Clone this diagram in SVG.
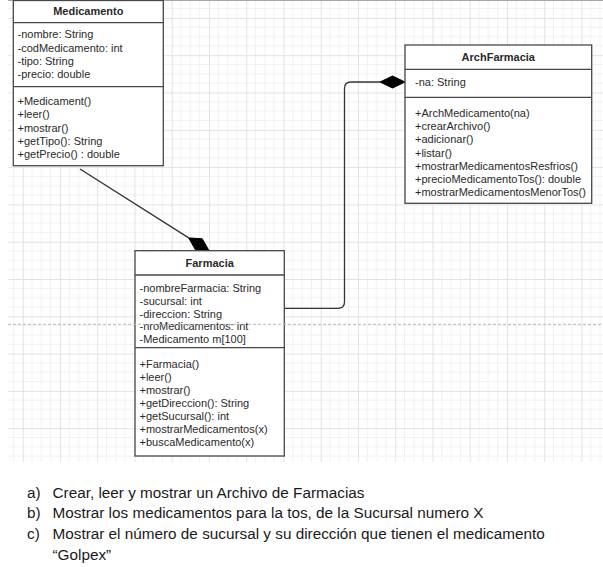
<svg xmlns="http://www.w3.org/2000/svg" width="603" height="567" viewBox="0 0 603 567">
<style>
.box{fill:#fff;stroke:#474747;stroke-width:1.3}
.sep{stroke:#474747;stroke-width:1.3}
.t{font-family:"Liberation Sans",Arial,sans-serif;font-size:11px;fill:#2a2a2a}
.h{font-family:"Liberation Sans",Arial,sans-serif;font-size:11px;font-weight:bold;fill:#2a2a2a;text-anchor:middle}
.q{font-family:"Liberation Sans",Arial,sans-serif;font-size:15.3px;fill:#1a1a1a}
.conn{fill:none;stroke:#333;stroke-width:1.3}
</style>
<defs>
<pattern id="grid" patternUnits="userSpaceOnUse" x="22.7" y="17.9" width="37.25" height="37.3">
<path d="M9.31 0V37.3M18.62 0V37.3M27.94 0V37.3M0 9.33H37.25M0 18.65H37.25M0 27.98H37.25" stroke="#f1f1f1" stroke-width="1" fill="none"/>
<path d="M0.5 0V37.3M0 0.5H37.25" stroke="#e2e2e2" stroke-width="1" fill="none"/>
</pattern>
</defs>
<rect width="603" height="567" fill="#fff"/>
<rect x="8" y="0" width="595" height="462" fill="url(#grid)"/>
<line x1="8" y1="0.5" x2="603" y2="0.5" stroke="#a8a8a8" stroke-width="1"/>

<g id="connectors">
<path class="conn" d="M80 169 L188.7 237.9"/>
<polygon points="188.7,237.9 202.3,238.8 209,250.7 195.4,249.8" fill="#000" stroke="#000" stroke-width="1"/>
<path class="conn" d="M284.3 308.3 H338 Q344.5 308.3 344.5 302 V88.5 Q344.5 82 351 82 H380"/>
<polygon points="380,82 392.5,76 405,82 392.5,88" fill="#000" stroke="#000" stroke-width="1"/>
</g>

<g id="medicamento">
<rect class="box" x="13.3" y="0.5" width="150" height="165.2"/>
<line class="sep" x1="13.3" y1="22.7" x2="163.3" y2="22.7"/>
<line class="sep" x1="13.3" y1="86.7" x2="163.3" y2="86.7"/>
<text class="h" x="88.3" y="15">Medicamento</text>
<text class="t" x="17.5" y="38.3">-nombre: String</text>
<text class="t" x="17.5" y="51.5">-codMedicamento: int</text>
<text class="t" x="17.5" y="64.7">-tipo: String</text>
<text class="t" x="17.5" y="77.9">-precio: double</text>
<text class="t" x="17.5" y="104.7">+Medicament()</text>
<text class="t" x="17.5" y="118.1">+leer()</text>
<text class="t" x="17.5" y="131.5">+mostrar()</text>
<text class="t" x="17.5" y="144.9">+getTipo(): String</text>
<text class="t" x="17.5" y="158.3">+getPrecio() : double</text>
</g>

<g id="archfarmacia">
<rect class="box" x="405" y="45" width="186.7" height="158.3"/>
<line class="sep" x1="405" y1="69.3" x2="591.7" y2="69.3"/>
<line class="sep" x1="405" y1="97.3" x2="591.7" y2="97.3"/>
<text class="h" x="498.3" y="61.3">ArchFarmacia</text>
<text class="t" x="415" y="86.3">-na: String</text>
<text class="t" x="415" y="117.3">+ArchMedicamento(na)</text>
<text class="t" x="415" y="130.4">+crearArchivo()</text>
<text class="t" x="415" y="143.4">+adicionar()</text>
<text class="t" x="415" y="156.5">+listar()</text>
<text class="t" x="415" y="169.6">+mostrarMedicamentosResfrios()</text>
<text class="t" x="415" y="182.7">+precioMedicamentoTos(): double</text>
<text class="t" x="415" y="195.7">+mostrarMedicamentosMenorTos()</text>
</g>

<g id="farmacia">
<rect class="box" x="135" y="250.7" width="149.3" height="205.3"/>
<line class="sep" x1="135" y1="275" x2="284.3" y2="275"/>
<line class="sep" x1="135" y1="347.7" x2="284.3" y2="347.7"/>
<text class="h" x="209.7" y="267.3">Farmacia</text>
<text class="t" x="139.5" y="291.7">-nombreFarmacia: String</text>
<text class="t" x="139.5" y="304.6">-sucursal: int</text>
<text class="t" x="139.5" y="317.5">-direccion: String</text>
<text class="t" x="139.5" y="330.4">-nroMedicamentos: int</text>
<text class="t" x="139.5" y="343.3">-Medicamento m[100]</text>
<text class="t" x="139.5" y="368.3">+Farmacia()</text>
<text class="t" x="139.5" y="381.3">+leer()</text>
<text class="t" x="139.5" y="394.3">+mostrar()</text>
<text class="t" x="139.5" y="407.3">+getDireccion(): String</text>
<text class="t" x="139.5" y="420.3">+getSucursal(): int</text>
<text class="t" x="139.5" y="433.3">+mostrarMedicamentos(x)</text>
<text class="t" x="139.5" y="446.3">+buscaMedicamento(x)</text>
</g>

<line x1="8" y1="324.3" x2="603" y2="324.3" stroke="#b8b8b8" stroke-width="1" stroke-dasharray="3 2"/>

<g id="questions">
<text class="q" x="27" y="497.5">a)</text>
<text class="q" x="52.5" y="497.5">Crear, leer y mostrar un Archivo de Farmacias</text>
<text class="q" x="27" y="518.2">b)</text>
<text class="q" x="52.5" y="518.2">Mostrar los medicamentos para la tos, de la Sucursal numero X</text>
<text class="q" x="27" y="538.9">c)</text>
<text class="q" x="52.5" y="538.9">Mostrar el número de sucursal y su dirección que tienen el medicamento</text>
<text class="q" x="52.5" y="559.6">“Golpex”</text>
</g>
</svg>
